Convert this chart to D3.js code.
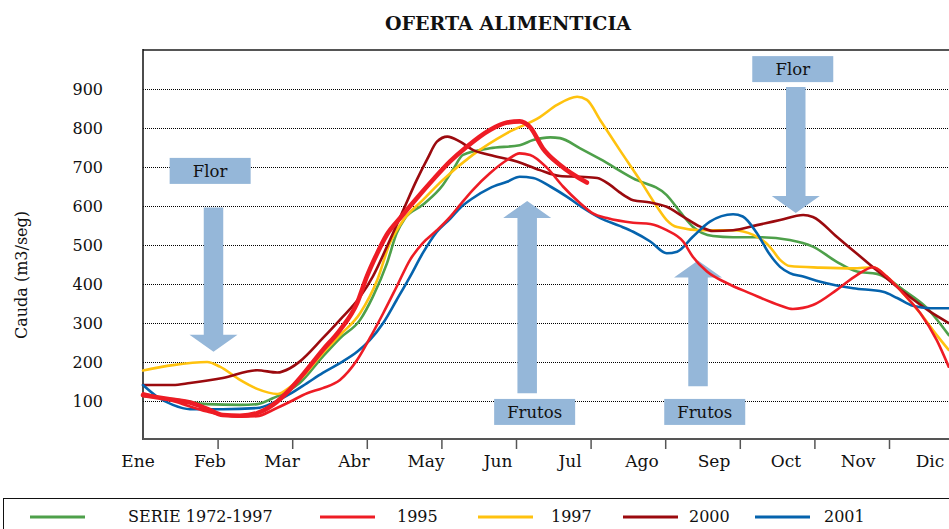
<!DOCTYPE html>
<html>
<head>
<meta charset="utf-8">
<script src="https://cdn.jsdelivr.net/npm/d3@7"></script>
<style>
  body { margin: 0; background: #fff; }
  svg { display: block; font-family: "DejaVu Serif", "Liberation Serif", serif; }
</style>
</head>
<body>
<svg id="chart" width="949" height="529"></svg>
<script>
// Month labels of the horizontal axis and values of the vertical axis
const meses = ["Ene", "Feb", "Mar", "Abr", "May", "Jun", "Jul", "Ago", "Sep", "Oct", "Nov", "Dic"];
const valoresEje = [100, 200, 300, 400, 500, 600, 700, 800, 900];

// Flow series: [month (0 = start of Ene), flow m3/seg]
const serie7297 = [[0.00,113],[0.40,105],[0.86,92],[1.30,90],[1.53,92],[1.74,107],[1.93,124],[2.10,146],[2.41,214],[2.64,261],[2.91,308],[3.08,367],[3.27,453],[3.40,530],[3.51,568],[3.75,603],[4.02,654],[4.16,695],[4.29,731],[4.65,748],[5.05,756],[5.23,769],[5.46,776],[5.59,774],[5.86,748],[6.13,720],[6.57,671],[7.02,628],[7.20,585],[7.37,547],[7.64,523],[7.91,520],[8.27,520],[8.67,513],[8.98,496],[9.30,457],[9.57,432],[9.84,426],[9.97,415],[10.19,385],[10.51,338],[10.80,269]];
const serie1995 = [[0.00,120],[0.40,100],[0.86,73],[1.07,64],[1.30,60],[1.53,61],[1.74,77],[1.97,98],[2.20,120],[2.41,133],[2.64,154],[2.87,205],[3.04,261],[3.22,325],[3.40,393],[3.58,462],[3.75,505],[3.94,538],[4.12,573],[4.25,603],[4.42,641],[4.65,684],[4.88,718],[5.05,735],[5.19,731],[5.42,697],[5.63,650],[5.86,607],[6.03,581],[6.22,569],[6.57,557],[6.80,554],[7.02,538],[7.24,509],[7.37,470],[7.56,432],[7.83,402],[8.14,376],[8.54,345],[8.71,336],[8.98,346],[9.30,385],[9.57,423],[9.79,443],[9.97,419],[10.19,376],[10.42,325],[10.64,256],[10.80,188]];
const serie1997 = [[0.00,178],[0.40,192],[0.86,200],[1.03,188],[1.30,154],[1.53,131],[1.80,118],[1.97,136],[2.10,155],[2.41,223],[2.64,269],[2.91,325],[3.14,410],[3.31,505],[3.49,564],[3.75,615],[4.02,667],[4.42,731],[4.88,787],[5.32,828],[5.55,859],[5.82,880],[5.95,872],[6.13,820],[6.39,744],[6.66,667],[6.89,598],[7.02,564],[7.16,546],[7.47,538],[7.91,538],[8.18,526],[8.40,496],[8.54,462],[8.67,446],[9.08,442],[9.52,440],[9.79,443],[9.97,419],[10.19,376],[10.42,325],[10.64,269],[10.80,231]];
const serie2000 = [[0.00,141],[0.40,141],[0.63,146],[1.07,159],[1.53,179],[1.80,173],[1.97,184],[2.10,201],[2.41,261],[2.64,308],[2.91,367],[3.08,419],[3.31,513],[3.49,590],[3.67,667],[3.81,720],[3.94,765],[4.08,778],[4.25,765],[4.42,744],[4.65,731],[5.01,714],[5.32,692],[5.59,677],[5.86,675],[6.09,672],[6.26,654],[6.39,635],[6.57,615],[6.80,609],[7.02,598],[7.24,573],[7.47,547],[7.64,536],[7.91,538],[8.23,551],[8.54,564],[8.85,577],[8.98,572],[9.30,521],[9.75,449],[10.19,380],[10.55,329],[10.80,300]];
const serie2001 = [[0.00,141],[0.19,111],[0.40,90],[0.63,79],[1.07,79],[1.53,82],[1.74,95],[1.97,118],[2.20,146],[2.41,172],[2.64,197],[2.87,226],[3.04,256],[3.22,300],[3.40,359],[3.58,419],[3.75,479],[3.94,534],[4.12,568],[4.25,595],[4.42,620],[4.65,646],[4.88,662],[5.05,675],[5.23,672],[5.46,650],[5.68,624],[5.90,595],[6.13,569],[6.39,549],[6.57,534],[6.80,509],[7.02,479],[7.16,483],[7.37,521],[7.60,560],[7.91,579],[8.04,573],[8.23,530],[8.40,476],[8.54,444],[8.67,428],[8.85,419],[9.08,406],[9.52,389],[9.92,380],[10.11,364],[10.32,344],[10.55,338],[10.80,338]];
// Current year, recorded up to July (heavy red line, not in the legend)
const serieParcial = [[0.00,115],[0.40,103],[0.63,96],[0.86,80],[1.07,64],[1.30,62],[1.53,69],[1.74,90],[1.97,130],[2.10,158],[2.41,231],[2.64,282],[2.87,351],[3.00,419],[3.14,479],[3.27,527],[3.45,570],[3.67,620],[3.89,668],[4.12,715],[4.34,752],[4.65,795],[4.88,814],[5.05,817],[5.19,802],[5.36,748],[5.59,705],[5.95,660]];

// Phenology notes: label box centre and arrow (month, flow)
const notaTexto = ["Flor", "Frutos", "Frutos", "Flor"];
const notaMes = [0.90, 5.25, 7.53, 8.71];
const notaValor = [690, 72, 72, 951];
const flechaMes = [0.945, 5.15, 7.44, 8.75];
const flechaDesde = [596, 120, 138, 905];
const flechaHasta = [226, 613, 460, 582];

const series = [
  { nombre: "SERIE 1972-1997", datos: serie7297, color: "#4ea04a", ancho: 2.6, leyenda: true },
  { nombre: "1995", datos: serie1995, color: "#ee1c25", ancho: 2.6, leyenda: true },
  { nombre: "1997", datos: serie1997, color: "#ffc20e", ancho: 2.6, leyenda: true },
  { nombre: "2000", datos: serie2000, color: "#9b0a0e", ancho: 2.6, leyenda: true },
  { nombre: "2001", datos: serie2001, color: "#0563ad", ancho: 2.6, leyenda: true },
  { nombre: "parcial", datos: serieParcial, color: "#ee1c25", ancho: 4.6, leyenda: false }
];

const svg = d3.select("#chart");
const plotLeft = 143, plotTop = 50, plotBottom = 440, plotRight = 949;

const x = d3.scaleLinear().domain([0, 12]).range([plotLeft, plotLeft + 12 * 74.6]);
const y = d3.scaleLinear().domain([0, 1000]).range([plotBottom, plotTop]);
const xLabel = d3.scalePoint().domain(meses).range([138, 930]);

// Title
svg.append("text")
  .attr("x", 508).attr("y", 30)
  .attr("text-anchor", "middle")
  .attr("font-weight", "bold")
  .attr("font-size", 19)
  .attr("fill", "#111")
  .text("OFERTA ALIMENTICIA");

// Dotted gridlines
svg.append("g")
  .selectAll("line")
  .data(valoresEje)
  .join("line")
  .attr("x1", plotLeft).attr("x2", plotRight)
  .attr("y1", d => Math.round(y(d)) + 0.5).attr("y2", d => Math.round(y(d)) + 0.5)
  .attr("stroke", "#000")
  .attr("stroke-width", 1)
  .attr("stroke-dasharray", "1,1");

// Vertical axis labels
svg.append("g")
  .selectAll("text")
  .data(valoresEje)
  .join("text")
  .attr("x", 103).attr("y", d => y(d) + 5.5)
  .attr("text-anchor", "end")
  .attr("font-size", 16)
  .attr("fill", "#111")
  .text(d => d);

svg.append("text")
  .attr("transform", "translate(27,275) rotate(-90)")
  .attr("text-anchor", "middle")
  .attr("font-size", 16)
  .attr("fill", "#111")
  .text("Cauda (m3/seg)");

// Frame: top border, left axis, bottom axis with month ticks
svg.append("line").attr("x1", plotLeft).attr("x2", plotRight).attr("y1", plotTop).attr("y2", plotTop)
  .attr("stroke", "#555").attr("stroke-width", 2);
svg.append("line").attr("x1", plotLeft).attr("x2", plotLeft).attr("y1", plotTop - 1).attr("y2", plotBottom)
  .attr("stroke", "#111").attr("stroke-width", 1.5);

const xAxis = d3.axisBottom(x)
  .tickValues(d3.range(1, 12))
  .tickSize(10)
  .tickFormat("");
const gx = svg.append("g").attr("transform", `translate(0,${plotBottom - 1})`).call(xAxis);
gx.select(".domain").attr("d", `M${plotLeft},0H${plotRight}`).attr("stroke", "#555").attr("stroke-width", 2.2);
gx.selectAll(".tick line").attr("stroke", "#555").attr("stroke-width", 1.5);

svg.append("g")
  .selectAll("text")
  .data(meses)
  .join("text")
  .attr("x", d => xLabel(d)).attr("y", 467)
  .attr("text-anchor", "middle")
  .attr("font-size", 17)
  .attr("fill", "#111")
  .text(d => d);

// Phenology arrows and label boxes
const shaft = 9.75, head = 24, headLen = 17;
function arrowPath(mes, desde, hasta) {
  const cx = x(mes), y0 = y(desde), y1 = y(hasta);
  const dir = y1 > y0 ? 1 : -1;
  const yb = y1 - dir * headLen;
  return `M${cx - shaft},${y0}L${cx + shaft},${y0}L${cx + shaft},${yb}L${cx + head},${yb}` +
         `L${cx},${y1}L${cx - head},${yb}L${cx - shaft},${yb}Z`;
}
const notas = svg.append("g");
notas.selectAll("path")
  .data(notaTexto)
  .join("path")
  .attr("d", (d, i) => arrowPath(flechaMes[i], flechaDesde[i], flechaHasta[i]))
  .attr("fill", "#95b7d9");
notas.selectAll("rect")
  .data(notaTexto)
  .join("rect")
  .attr("x", (d, i) => x(notaMes[i]) - 40.5)
  .attr("y", (d, i) => y(notaValor[i]) - 13)
  .attr("width", 81).attr("height", 26)
  .attr("fill", "#95b7d9");
notas.selectAll("text")
  .data(notaTexto)
  .join("text")
  .attr("x", (d, i) => x(notaMes[i]))
  .attr("y", (d, i) => y(notaValor[i]) + 6)
  .attr("text-anchor", "middle")
  .attr("font-size", 16.5)
  .attr("fill", "#111")
  .text(d => d);

// Flow lines
const linea = d3.line()
  .x(d => x(d[0]))
  .y(d => y(d[1]))
  .curve(d3.curveMonotoneX);

const orden = [0, 2, 3, 4, 1, 5];
svg.append("g")
  .selectAll("path")
  .data(orden.map(i => series[i]))
  .join("path")
  .attr("d", d => linea(d.datos))
  .attr("fill", "none")
  .attr("stroke", d => d.color)
  .attr("stroke-width", d => d.ancho)
  .attr("stroke-linejoin", "round")
  .attr("stroke-linecap", "round");

// Legend
const leyenda = svg.append("g");
leyenda.append("rect")
  .attr("x", 3.5).attr("y", 498.5)
  .attr("width", 960).attr("height", 60)
  .attr("fill", "none").attr("stroke", "#111").attr("stroke-width", 1);
const segX = [30, 320, 478, 623, 755];
const textoX = [128, 397, 551, 689, 824];
const items = leyenda.selectAll("g.item")
  .data(series.filter(s => s.leyenda))
  .join("g").attr("class", "item");
items.append("line")
  .attr("x1", (d, i) => segX[i]).attr("x2", (d, i) => segX[i] + 55)
  .attr("y1", 517).attr("y2", 517)
  .attr("stroke", d => d.color).attr("stroke-width", 3);
items.append("text")
  .attr("x", (d, i) => textoX[i]).attr("y", 522)
  .attr("font-size", 16)
  .attr("fill", "#111")
  .text(d => d.nombre);
</script>
</body>
</html>
